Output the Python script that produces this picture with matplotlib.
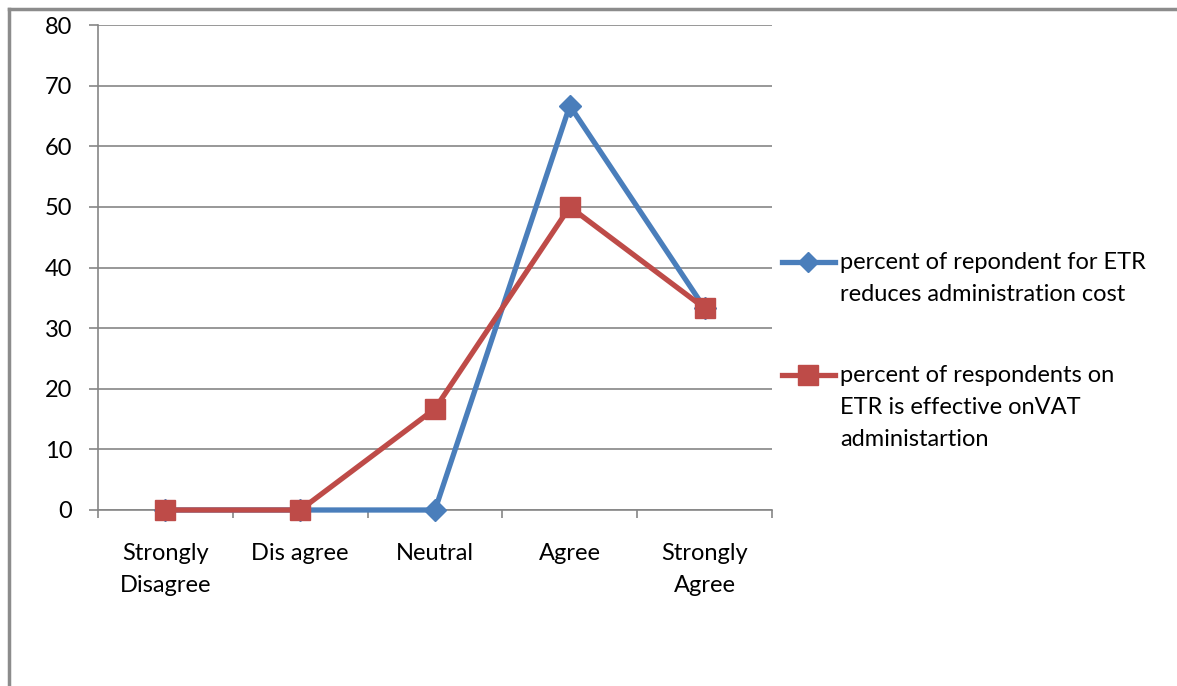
import matplotlib
matplotlib.use("Agg")
import matplotlib.pyplot as plt
from matplotlib.lines import Line2D

# survey responses, percent of respondents
categories = ["Strongly\nDisagree", "Dis agree", "Neutral", "Agree", "Strongly\nAgree"]
cost_pct = [0, 0, 0, 66.7, 33.3]
vat_pct = [0, 0, 16.7, 50, 33.3]
series_labels = [
    "percent of repondent for ETR\nreduces administration cost",
    "percent of respondents on\nETR is effective onVAT\nadministartion",
]
y_ticks = [0, 10, 20, 30, 40, 50, 60, 70, 80]

BLUE = "#4a7ebb"
RED = "#be4b48"
GRID = "#868686"
FS = 17

plt.rcParams["font.family"] = ["Lato", "DejaVu Sans"]
W, H = 1177, 686
fig = plt.figure(figsize=(W / 100, H / 100), dpi=100)
ax = fig.add_axes([98 / W, 1 - 510 / H, (772 - 98) / W, (510 - 25) / H])

x = range(len(categories))
ax.plot(x, cost_pct, color=BLUE, lw=3.8, marker="D", ms=11, zorder=3, clip_on=False)
ax.plot(x, vat_pct, color=RED, lw=3.8, marker="s", ms=14, zorder=4, clip_on=False)

ax.set_xlim(-0.5, len(categories) - 0.5)
ax.set_ylim(0, 80)
ax.set_yticks(y_ticks)
ax.set_yticklabels([str(v) for v in y_ticks], fontsize=FS, color="black")
ax.yaxis.grid(True, color=GRID, lw=1.2)
ax.set_axisbelow(True)

# category labels sit between boundary ticks
ax.set_xticks([i - 0.5 for i in range(len(categories) + 1)])
ax.set_xticklabels([])
ax.set_xticks(list(x), minor=True)
ax.set_xticklabels(categories, minor=True, fontsize=FS, linespacing=1.65)
ax.tick_params(axis="x", which="major", length=6, color=GRID, width=1.2, direction="out")
ax.tick_params(axis="x", which="minor", length=0, pad=23.5)
ax.tick_params(axis="y", length=6.5, color=GRID, width=1.2, pad=12)

for side in ["top", "right"]:
    ax.spines[side].set_visible(False)
for side in ["left", "bottom"]:
    ax.spines[side].set_color(GRID)
    ax.spines[side].set_linewidth(1.2)

# legend drawn at the right of the plot, handle level with the first text line
legend_rows = [(262, BLUE, "D", 10), (375, RED, "s", 14)]
for (py, col, mk, ms), label in zip(legend_rows, series_labels):
    yy = 1 - py / H
    fig.add_artist(Line2D([782 / W, 835 / W], [yy, yy], color=col, lw=3.8,
                          transform=fig.transFigure))
    fig.add_artist(Line2D([808 / W], [yy], color=col, marker=mk, ms=ms,
                          transform=fig.transFigure))
    for i, line in enumerate(label.split("\n")):
        fig.text(840 / W, 1 - (py + 7 + 32 * i) / H, line, fontsize=FS,
                 ha="left", va="baseline", transform=fig.transFigure)

# frame lines along the top and left edge
fig.add_artist(Line2D([8.5 / W, 1], [1 - 8.5 / H, 1 - 8.5 / H], color="#8c8c8c", lw=2.5,
                      transform=fig.transFigure))
fig.add_artist(Line2D([8.5 / W, 8.5 / W], [0, 1 - 8.5 / H], color="#8c8c8c", lw=2.5,
                      transform=fig.transFigure))

fig.savefig("out.png", dpi=100)
